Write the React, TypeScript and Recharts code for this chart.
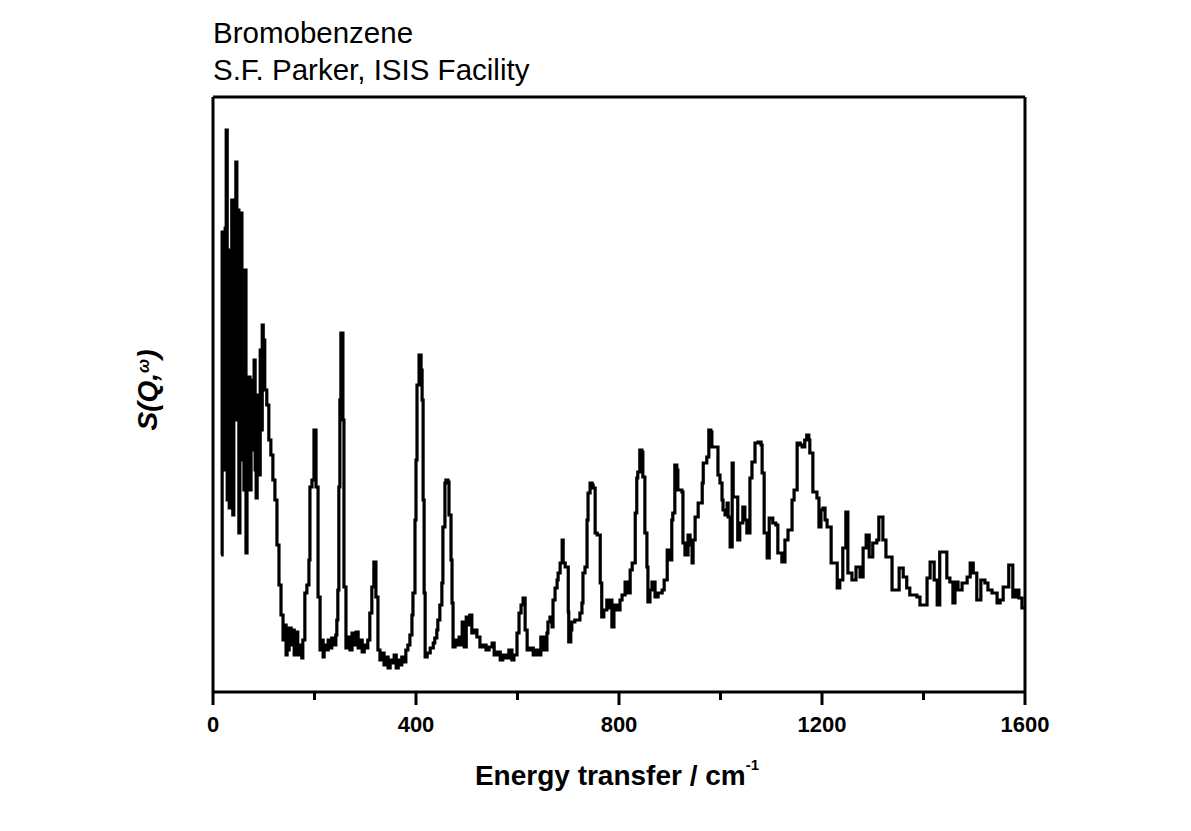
import { LineChart, Line, XAxis, YAxis, ReferenceLine } from "recharts";

// Bromobenzene INS spectrum
// energy transfer in cm-1, intensity in arbitrary units
const ENERGY = [
  16, 18, 22, 24, 26, 28, 30, 32, 33, 35, 37, 39, 41, 43, 45, 47, 49, 51, 53, 55,
  57, 59, 61, 63, 65, 67, 69, 71, 73, 75, 77, 79, 81, 83, 85, 87, 89, 91, 93, 95,
  97, 99, 102, 106, 110, 114, 118, 122, 126, 130, 134, 138, 142, 144, 146, 148, 150, 154, 156, 160,
  162, 166, 167, 171, 175, 177, 181, 185, 189, 191, 195, 199, 203, 207, 211, 213, 217, 219, 223, 227,
  231, 234, 238, 242, 244, 246, 248, 250, 252, 256, 258, 262, 266, 270, 274, 278, 282, 286, 290, 294,
  298, 301, 305, 309, 313, 317, 321, 325, 329, 333, 337, 341, 345, 349, 353, 357, 361, 365, 368, 372,
  376, 380, 384, 388, 392, 394, 398, 400, 402, 406, 410, 412, 414, 416, 418, 422, 428, 434, 437, 441,
  443, 447, 451, 453, 457, 459, 463, 465, 469, 471, 473, 477, 481, 485, 489, 491, 495, 499, 502, 506,
  510, 514, 520, 526, 532, 538, 544, 550, 554, 560, 566, 571, 577, 583, 589, 593, 599, 603, 607, 611,
  615, 619, 625, 631, 636, 642, 646, 652, 658, 660, 664, 668, 670, 674, 678, 680, 684, 688, 690, 694,
  700, 701, 705, 707, 713, 723, 727, 729, 733, 737, 739, 743, 747, 749, 753, 757, 763, 766, 770, 776,
  780, 784, 786, 790, 796, 802, 806, 812, 818, 822, 826, 832, 835, 837, 841, 845, 847, 851, 855, 857,
  861, 865, 871, 877, 885, 889, 895, 900, 904, 906, 910, 914, 916, 924, 926, 930, 936, 940, 944, 946,
  950, 956, 964, 966, 973, 977, 981, 983, 995, 999, 1003, 1005, 1009, 1013, 1015, 1019, 1023, 1025, 1034, 1038,
  1044, 1048, 1052, 1058, 1062, 1068, 1074, 1080, 1082, 1086, 1092, 1096, 1103, 1109, 1113, 1121, 1127, 1133, 1141, 1145,
  1151, 1157, 1161, 1166, 1170, 1174, 1176, 1182, 1190, 1194, 1198, 1202, 1206, 1210, 1218, 1230, 1235, 1241, 1247, 1251,
  1259, 1267, 1275, 1281, 1287, 1293, 1300, 1308, 1312, 1320, 1326, 1338, 1352, 1360, 1367, 1373, 1387, 1393, 1407, 1413,
  1421, 1427, 1432, 1446, 1452, 1458, 1462, 1468, 1476, 1486, 1492, 1498, 1505, 1513, 1521, 1527, 1535, 1545, 1551, 1557,
  1568, 1576, 1582, 1588, 1594, 1600,
];

const INTENSITY = [
  137, 460, 222, 464, 562, 192, 402, 184, 442, 212, 492, 177, 402, 272, 530, 272, 482, 159, 442, 479,
  232, 392, 202, 422, 139, 312, 222, 315, 202, 297, 242, 312, 332, 222, 194, 262, 297, 217, 342, 262,
  367, 352, 302, 287, 252, 237, 212, 192, 147, 107, 77, 52, 67, 37, 62, 42, 64, 47, 62, 37,
  52, 60, 37, 47, 34, 52, 99, 107, 132, 205, 212, 262, 205, 95, 42, 52, 35, 47, 42, 52,
  44, 54, 47, 57, 72, 102, 205, 292, 359, 272, 105, 44, 55, 42, 59, 47, 60, 44, 52, 40,
  47, 44, 52, 79, 105, 130, 95, 42, 32, 39, 27, 35, 24, 32, 29, 37, 24, 32, 27, 35,
  30, 42, 47, 57, 77, 99, 172, 232, 307, 337, 322, 292, 192, 99, 35, 39, 44, 49, 54, 62,
  72, 87, 109, 165, 209, 212, 210, 177, 132, 89, 45, 52, 47, 55, 47, 70, 45, 75, 67, 77,
  59, 62, 55, 45, 47, 42, 45, 49, 37, 40, 32, 37, 34, 42, 32, 37, 59, 79, 87, 94,
  62, 42, 44, 37, 42, 37, 55, 42, 59, 70, 75, 65, 92, 104, 112, 119, 129, 152, 129, 125,
  80, 50, 62, 70, 72, 79, 89, 119, 125, 172, 199, 209, 207, 204, 159, 157, 109, 75, 82, 92,
  84, 92, 65, 87, 82, 92, 97, 110, 99, 122, 129, 179, 214, 220, 242, 240, 215, 159, 125, 90,
  102, 110, 95, 99, 102, 112, 142, 132, 172, 179, 227, 222, 202, 200, 149, 137, 157, 147, 129, 152,
  175, 189, 209, 229, 235, 262, 260, 245, 217, 209, 192, 182, 177, 189, 175, 145, 229, 195, 152, 169,
  185, 172, 159, 214, 230, 249, 250, 247, 219, 159, 134, 174, 169, 167, 139, 130, 152, 162, 192, 202,
  249, 247, 245, 252, 257, 252, 239, 200, 194, 165, 182, 184, 172, 165, 129, 104, 112, 144, 180, 119,
  112, 125, 115, 144, 157, 135, 149, 152, 175, 152, 135, 102, 124, 115, 104, 97, 95, 87, 114, 130,
  112, 87, 140, 114, 110, 89, 110, 102, 109, 115, 129, 119, 92, 112, 109, 102, 99, 89, 92, 105,
  127, 95, 102, 94, 84, 84,
];

const X_TICKS = [0, 200, 400, 600, 800, 1000, 1200, 1400, 1600];
const MAJOR_TICKS = [0, 400, 800, 1200, 1600];

const FONT = "'Liberation Sans', Arial, sans-serif";

const data = ENERGY.map((e, i) => ({ e, s: INTENSITY[i] }));

const BottomTick = (props: any) => {
  const { x, y, payload } = props;
  const major = MAJOR_TICKS.includes(payload.value);
  return (
    <g>
      <line x1={x} x2={x} y1={y} y2={y + (major ? 13 : 8)} stroke="#000" strokeWidth={3} />
      {major && (
        <text x={x} y={y + 40} textAnchor="middle" fontFamily={FONT} fontWeight="bold" fontSize={22} fill="#000">
          {payload.value}
        </text>
      )}
    </g>
  );
};

export default function App() {
  return (
    <div style={{ position: "absolute", left: 0, top: 0, width: 1191, height: 831, background: "#fff" }}>
      <LineChart width={1191} height={831} data={data} margin={{ top: 97, right: 166, bottom: 79, left: 213 }}>
        <XAxis
          dataKey="e"
          type="number"
          domain={[0, 1600]}
          ticks={X_TICKS}
          interval={0}
          height={60}
          tickSize={0}
          tickMargin={0}
          tickLine={false}
          axisLine={{ stroke: "#000", strokeWidth: 3 }}
          tick={<BottomTick />}
        />
        <YAxis hide domain={[0, 595]} />
        <ReferenceLine x={0} stroke="#000" strokeWidth={3} />
        <ReferenceLine x={1600} stroke="#000" strokeWidth={3} />
        <ReferenceLine y={595} stroke="#000" strokeWidth={3} />
        <Line
          type="stepAfter"
          dataKey="s"
          stroke="#000"
          strokeWidth={3.2}
          dot={false}
          isAnimationActive={false}
        />
      </LineChart>

      <svg width={1191} height={831} style={{ position: "absolute", left: 0, top: 0, pointerEvents: "none" }}>
        <text x={213} y={43} fontFamily={FONT} fontSize={29.5} fill="#000">Bromobenzene</text>
        <text x={213} y={80} fontFamily={FONT} fontSize={29.5} fill="#000">S.F. Parker, ISIS Facility</text>
        <text x={617} y={785} textAnchor="middle" fontFamily={FONT} fontWeight="bold" fontSize={28} fill="#000">
          Energy transfer / cm<tspan fontSize={15} dy={-15}>-1</tspan>
        </text>
        <text
          transform="translate(157,390) rotate(-90)"
          textAnchor="middle"
          fontFamily={FONT}
          fontWeight="bold"
          fontStyle="italic"
          fontSize={28}
          fill="#000"
        >
          S(Q,<tspan fontSize={17} dy={-8}>ω</tspan><tspan dy={8}>)</tspan>
        </text>
      </svg>
    </div>
  );
}
